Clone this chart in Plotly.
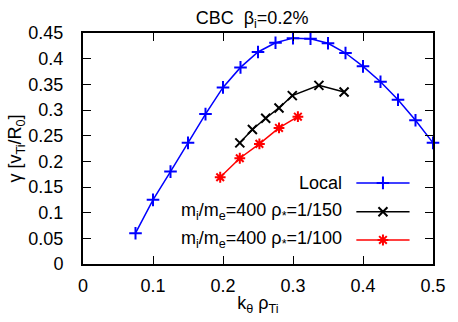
import plotly.graph_objects as go

# Growth rate vs k_theta rho_Ti, CBC case with beta_i = 0.2%
k_local = [0.075, 0.1, 0.125, 0.15, 0.175, 0.2, 0.225, 0.25, 0.275, 0.3,
           0.325, 0.35, 0.375, 0.4, 0.425, 0.45, 0.475, 0.5]
g_local = [0.060, 0.125, 0.180, 0.236, 0.292, 0.344, 0.383, 0.413, 0.431, 0.440,
           0.439, 0.430, 0.411, 0.385, 0.355, 0.320, 0.280, 0.236]

k_150 = [0.224, 0.242, 0.261, 0.280, 0.299, 0.337, 0.373]
g_150 = [0.236, 0.262, 0.284, 0.304, 0.328, 0.348, 0.335]

k_100 = [0.196, 0.224, 0.252, 0.280, 0.307]
g_100 = [0.169, 0.206, 0.234, 0.265, 0.287]

names = ["Local",
         "m<sub>i</sub>/m<sub>e</sub>=400 ρ<sub>*</sub>=1/150",
         "m<sub>i</sub>/m<sub>e</sub>=400 ρ<sub>*</sub>=1/100"]
colors = ["#0000ff", "#000000", "#ff0000"]
symbols = ["cross-thin", "x-thin", "asterisk-open"]
msizes = [9, 9, 9]

x_ticks = [0, 0.1, 0.2, 0.3, 0.4, 0.5]
y_ticks = [0, 0.05, 0.1, 0.15, 0.2, 0.25, 0.3, 0.35, 0.4, 0.45]

FONT = "Liberation Sans, Arial, sans-serif"

fig = go.Figure()
for xs, ys, c, s, ms in zip([k_local, k_150, k_100], [g_local, g_150, g_100],
                            colors, symbols, msizes):
    fig.add_trace(go.Scatter(
        x=xs, y=ys, mode="lines+markers",
        line=dict(color=c, width=1.5),
        marker=dict(symbol=s, size=ms, color=c, line=dict(color=c, width=2)),
        showlegend=False, cliponaxis=False))

# Key: text on the left, line sample on the right, drawn on a unit overlay axis
key_y = [0.351, 0.226, 0.104]
for name, c, s, ms, yk in zip(names, colors, symbols, msizes, key_y):
    fig.add_annotation(x=0.746, y=yk, xref="x2", yref="y2", text=name,
                       showarrow=False, xanchor="right", yanchor="middle",
                       font=dict(size=18, color="black", family=FONT))
    fig.add_trace(go.Scatter(
        x=[0.781, 0.933], y=[yk, yk], xaxis="x2", yaxis="y2", mode="lines",
        line=dict(color=c, width=1.5), showlegend=False, hoverinfo="skip"))
    fig.add_trace(go.Scatter(
        x=[0.857], y=[yk], xaxis="x2", yaxis="y2", mode="markers",
        marker=dict(symbol=s, size=ms, color=c, line=dict(color=c, width=2)),
        showlegend=False, hoverinfo="skip"))

axis_common = dict(showgrid=False, zeroline=False, showline=True,
                   linecolor="black", linewidth=2, mirror="ticks",
                   ticks="inside", ticklen=8, tickwidth=1, tickcolor="black",
                   tickfont=dict(size=18, color="black", family=FONT))

fig.update_layout(
    width=458, height=322,
    margin=dict(l=83, r=17, t=33, b=58),
    paper_bgcolor="white", plot_bgcolor="white",
    font=dict(family=FONT, size=18, color="black"),
    title=dict(text="CBC  β<sub>i</sub>=0.2%", x=0.483, xref="paper",
               xanchor="center", y=0.945, yanchor="middle",
               font=dict(size=18)),
    xaxis=dict(range=[0, 0.5], tickvals=x_ticks,
               ticktext=[f"{v:g}" for v in x_ticks],
               ticklabelstandoff=4,
               title=dict(text="k<sub>θ</sub> ρ<sub>Ti</sub>", standoff=2,
                          font=dict(size=18)),
               **axis_common),
    yaxis=dict(range=[0, 0.45], tickvals=y_ticks,
               ticktext=[f"{v:g}" for v in y_ticks],
               ticklabelstandoff=14,
               title=dict(text="γ [v<sub>Ti</sub>/R<sub>0</sub>]", standoff=2,
                          font=dict(size=18)),
               **axis_common),
    xaxis2=dict(range=[0, 1], overlaying="x", visible=False, fixedrange=True),
    yaxis2=dict(range=[0, 1], overlaying="y", visible=False, fixedrange=True),
)

fig.write_html("out.html")
